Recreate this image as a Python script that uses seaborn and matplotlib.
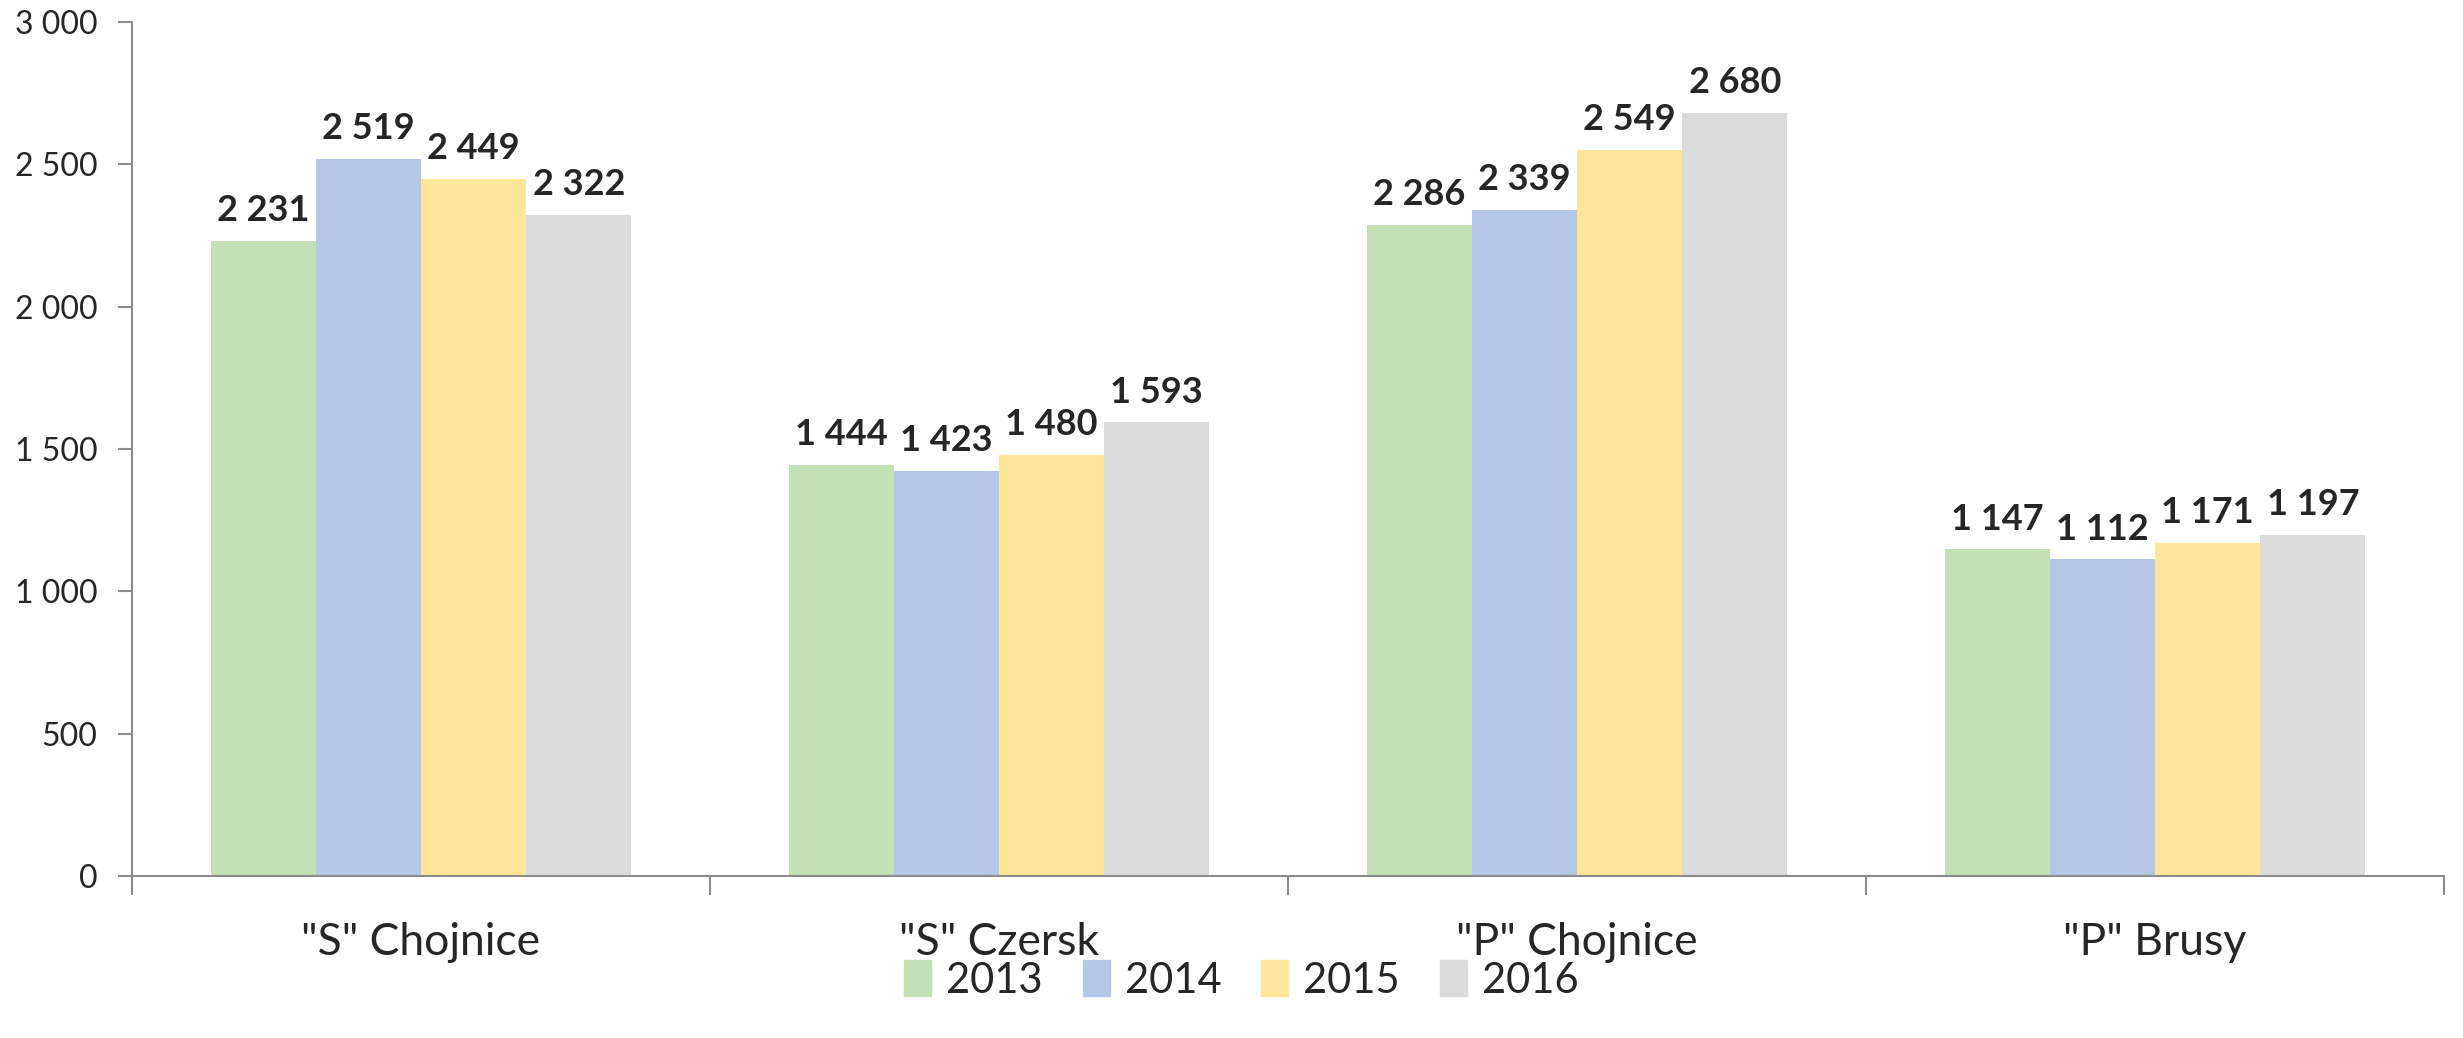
import pandas as pd
import seaborn as sns
import matplotlib.pyplot as plt
from matplotlib.ticker import FixedLocator, FuncFormatter

categories = ['"S" Chojnice', '"S" Czersk', '"P" Chojnice', '"P" Brusy']
years = ['2013', '2014', '2015', '2016']
v2013 = [2231, 1444, 2286, 1147]
v2014 = [2519, 1423, 2339, 1112]
v2015 = [2449, 1480, 2549, 1171]
v2016 = [2322, 1593, 2680, 1197]
colors = ['#C5E0B4', '#B4C7E7', '#FFE699', '#DBDBDB']

rows = []
for year, vals in zip(years, [v2013, v2014, v2015, v2016]):
    for cat, v in zip(categories, vals):
        rows.append({'cat': cat, 'year': year, 'value': v})
df = pd.DataFrame(rows)

sns.set_style('white')
plt.rcParams['font.family'] = ['Lato', 'DejaVu Sans']

def spaced(v, pos=None):
    return f"{int(v):,}".replace(",", " ")

fig = plt.figure(figsize=(24.63, 10.38), dpi=100)
ax = fig.add_axes([0.0536, 0.156, 0.9387, 0.823])
sns.barplot(ax=ax, data=df, x='cat', y='value', hue='year', order=categories,
            hue_order=years, palette=colors, width=0.728, linewidth=0,
            saturation=1, legend=False)

# data labels above each bar
for cont in ax.containers:
    ax.bar_label(cont, labels=[spaced(b.get_height()) for b in cont],
                 fontsize=26, fontweight='bold', padding=10)

ax.set_xlim(-0.5, 3.5)
ax.set_ylim(0, 3000)
ax.set_yticks(range(0, 3001, 500))
ax.yaxis.set_major_formatter(FuncFormatter(spaced))
ax.set_xlabel('')
ax.set_ylabel('')

for s in ['top', 'right']:
    ax.spines[s].set_visible(False)
for s in ['left', 'bottom']:
    ax.spines[s].set_color('#8C8C8C')
    ax.spines[s].set_linewidth(1.5)

ax.tick_params(axis='y', which='major', left=True, length=10, width=1.5,
               color='#8C8C8C', labelsize=23, pad=15)
ax.tick_params(axis='x', which='major', length=0, labelsize=32, pad=33)
ax.xaxis.set_minor_locator(FixedLocator([-0.5, 0.5, 1.5, 2.5, 3.5]))
ax.tick_params(axis='x', which='minor', bottom=True, length=14, width=1.5,
               color='#8C8C8C')

handles = [plt.Rectangle((0, 0), 1, 1, color=c) for c in colors]
fig.legend(handles, years, loc='center', bbox_to_anchor=(0.504, 0.056),
           ncol=4, frameon=False, fontsize=30, handlelength=0.65,
           handleheight=0.95, handletextpad=0.36, columnspacing=0.96)

fig.savefig('out.png', dpi=100)
